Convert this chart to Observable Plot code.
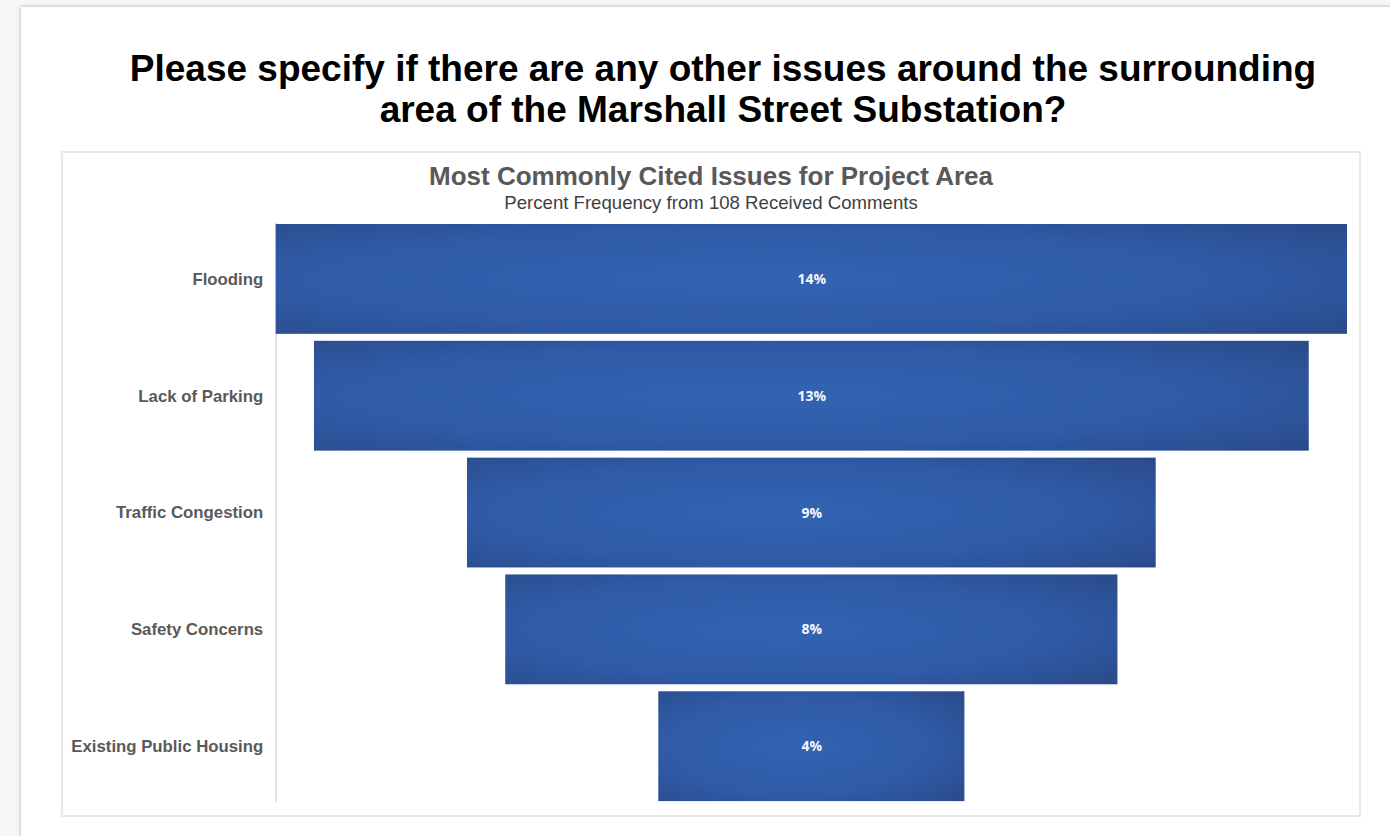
<!DOCTYPE html>
<html>
<head>
<meta charset="utf-8">
<script src="https://cdn.jsdelivr.net/npm/d3@7"></script>
<script src="https://cdn.jsdelivr.net/npm/@observablehq/plot@0.6"></script>
<style>
  html, body { margin: 0; padding: 0; background: #f7f7f7; width: 1390px; height: 836px; overflow: hidden; font-family: "Liberation Sans", Arial, sans-serif; }
  #card { position: absolute; left: 21px; top: 7px; width: 1400px; height: 860px; background: #fff; box-shadow: 0 0 4px rgba(0,0,0,0.3); }
  #title { position: absolute; left: 23px; top: 48px; width: 1400px; text-align: center; font-weight: bold; font-size: 37px; line-height: 41px; color: #000; }
  #box { position: absolute; left: 61px; top: 151px; width: 1296px; height: 662px; border: 2px solid #e8e8e8; background: #fff; }
  #ctitle { position: absolute; left: 0; top: 8px; width: 100%; text-align: center; font-weight: bold; font-size: 26px; color: #595959; }
  #csub { position: absolute; left: 0; top: 39px; width: 100%; text-align: center; font-size: 18.6px; color: #404040; }
  #chart { position: absolute; left: -2px; top: 67px; }
</style>
</head>
<body>
<svg width="0" height="0" style="position:absolute">
  <defs>
    <radialGradient id="funnelGrad" cx="0.45" cy="0.5" r="0.75" gradientUnits="objectBoundingBox">
      <stop offset="0" stop-color="#3263b2"/>
      <stop offset="0.6" stop-color="#2f5aa6"/>
      <stop offset="1" stop-color="#2a4a88"/>
    </radialGradient>
  </defs>
</svg>
<div id="card"></div>
<div id="title">Please specify if there are any other issues around the surrounding<br>area of the Marshall Street Substation?</div>
<div id="box">
  <div id="ctitle">Most Commonly Cited Issues for Project Area</div>
  <div id="csub">Percent Frequency from 108 Received Comments</div>
  <div id="chart"></div>
</div>
<script>
const categories = ["Flooding", "Lack of Parking", "Traffic Congestion", "Safety Concerns", "Existing Public Housing"];
const percents = [14, 13, 9, 8, 4];
const labels = ["14%", "13%", "9%", "8%", "4%"];

const data = categories.map((c, i) => ({ category: c, value: percents[i], label: labels[i] }));
const maxV = d3.max(percents);

const plot = Plot.plot({
  width: 1300,
  height: 591,
  marginLeft: 215,
  marginRight: 12,
  marginTop: 3,
  marginBottom: 8,
  style: { background: "transparent", overflow: "visible", fontFamily: "Liberation Sans, Arial, sans-serif" },
  x: { domain: [-maxV / 2, maxV / 2], axis: null },
  y: { domain: categories, paddingInner: 0.058, paddingOuter: 0, label: null },
  marks: [
    Plot.ruleX([-maxV / 2], { stroke: "#d9d9d9", strokeWidth: 1.5 }),
    Plot.barX(data, { y: "category", x1: d => -d.value / 2, x2: d => d.value / 2, fill: "url(#funnelGrad)" }),
    Plot.text(data, { y: "category", x: d => 0, text: "label", fill: "#f4f6fa", fontWeight: "bold", fontSize: 14, fontFamily: "Open Sans, sans-serif" }),
    Plot.axisY({ tickSize: 0, tickPadding: 13, fontSize: 16.8, fontWeight: "bold", fill: "#595959", label: null })
  ]
});
document.getElementById("chart").appendChild(plot);
</script>
</body>
</html>
